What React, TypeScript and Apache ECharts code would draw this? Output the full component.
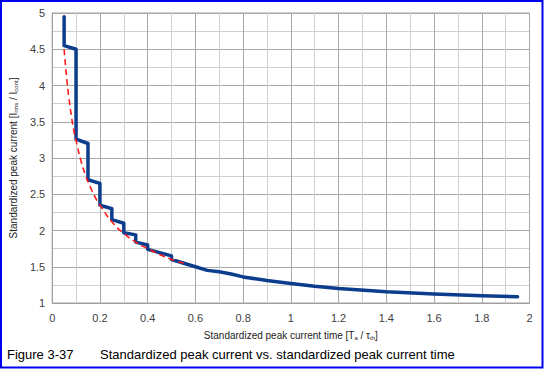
import React, { useEffect, useRef } from "react";
import * as echarts from "echarts";

const blueX = [0.05, 0.05, 0.1, 0.1, 0.15, 0.15, 0.2, 0.2, 0.25, 0.25, 0.3, 0.3, 0.35, 0.35, 0.4, 0.4, 0.5, 0.5, 0.6, 0.65, 0.7, 0.75, 0.8, 0.9, 1.0, 1.1, 1.2, 1.4, 1.6, 1.8, 1.95];
const blueY = [4.95, 4.55, 4.5, 3.26, 3.2, 2.7, 2.65, 2.35, 2.3, 2.15, 2.1, 1.97, 1.94, 1.84, 1.8, 1.74, 1.65, 1.6, 1.5, 1.45, 1.43, 1.4, 1.36, 1.31, 1.27, 1.23, 1.2, 1.155, 1.125, 1.1, 1.085];

const redX = [0.05, 0.06, 0.07, 0.08, 0.09, 0.1, 0.12, 0.14, 0.16, 0.18, 0.2, 0.25, 0.3, 0.35, 0.4, 0.45, 0.5, 0.55];
const redY = [4.5, 4.13, 3.83, 3.59, 3.39, 3.24, 2.97, 2.76, 2.6, 2.46, 2.35, 2.12, 1.96, 1.84, 1.75, 1.67, 1.6, 1.55];

const xTitle = "Standardized peak current time [T{sub|a} / τ{sub|th}]";
const yTitle = "Standardized peak current [I{sub|rms} / I{sub|cont}]";
const captionNum = "Figure 3-37";
const captionText = "Standardized peak current vs. standardized peak current time";

export default function App() {
  const ref = useRef<HTMLDivElement>(null);
  useEffect(() => {
    const chart = echarts.init(ref.current!, null, { renderer: "svg" });
    const font = "'Liberation Sans', Arial, sans-serif";
    chart.setOption({
      animation: false,
      backgroundColor: "#ffffff",
      textStyle: { fontFamily: font },
      grid: {
        left: 49.5,
        right: 14.5,
        top: 13,
        bottom: 66,
        show: true,
        borderColor: "#a0a0a0",
        borderWidth: 1,
      },
      xAxis: {
        type: "value",
        min: 0,
        max: 2,
        interval: 0.2,
        name: xTitle,
        nameLocation: "middle",
        nameGap: 26,
        nameTextStyle: {
          fontSize: 10,
          color: "#222",
          fontFamily: font,
          rich: { sub: { fontSize: 6, verticalAlign: "bottom", padding: [6, 0, 0, 0], color: "#222" } },
        },
        axisLine: { show: true, lineStyle: { color: "#a0a0a0" } },
        axisTick: { show: false },
        axisLabel: { color: "#404040", fontSize: 11, margin: 9, fontFamily: font },
        splitLine: { show: true, lineStyle: { color: "#a8a8a8", width: 1 } },
        minorTick: { show: false, splitNumber: 2 },
        minorSplitLine: { show: true, lineStyle: { color: "#cfcfcf", width: 1 } },
      },
      yAxis: {
        type: "value",
        min: 1,
        max: 5,
        interval: 0.5,
        name: yTitle,
        nameLocation: "middle",
        nameGap: 32,
        nameTextStyle: {
          fontSize: 10,
          color: "#222",
          fontFamily: font,
          rich: { sub: { fontSize: 6, verticalAlign: "bottom", padding: [6, 0, 0, 0], color: "#222" } },
        },
        axisLine: { show: true, lineStyle: { color: "#a0a0a0" } },
        axisTick: { show: false },
        axisLabel: { color: "#404040", fontSize: 11, margin: 7, fontFamily: font },
        splitLine: { show: true, lineStyle: { color: "#a8a8a8", width: 1 } },
        minorTick: { show: false, splitNumber: 2 },
        minorSplitLine: { show: true, lineStyle: { color: "#cfcfcf", width: 1 } },
      },
      series: [
        {
          type: "line",
          data: redX.map((x, i) => [x, redY[i]]),
          showSymbol: false,
          smooth: true,
          lineStyle: { color: "#ff1a1a", width: 1.6, type: [6, 4] },
          z: 3,
        },
        {
          type: "line",
          data: blueX.map((x, i) => [x, blueY[i]]),
          showSymbol: false,
          lineStyle: { color: "#0b3d8c", width: 3.5, join: "round", cap: "round" },
          z: 2,
        },
      ],
      graphic: [
        {
          type: "rect",
          shape: { x: 1, y: 1, width: 541.5, height: 366.5 },
          style: { fill: "none", stroke: "#0000ee", lineWidth: 2 },
          silent: true,
          z: 100,
        },
        {
          type: "text",
          x: 7,
          y: 354,
          style: { text: captionNum, font: "13px 'Liberation Sans', Arial, sans-serif", fill: "#000", textVerticalAlign: "middle" },
        },
        {
          type: "text",
          x: 100,
          y: 354,
          style: { text: captionText, font: "13px 'Liberation Sans', Arial, sans-serif", fill: "#000", textVerticalAlign: "middle" },
        },
      ],
    });
    return () => chart.dispose();
  }, []);
  return (
    <div
      ref={ref}
      style={{ position: "fixed", left: 0, top: 0, width: 544, height: 369 }}
    />
  );
}
